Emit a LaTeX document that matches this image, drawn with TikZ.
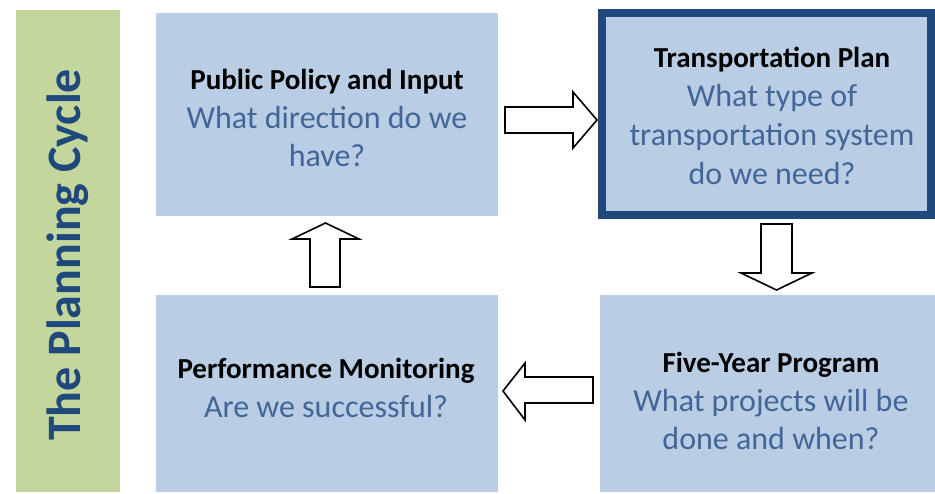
\documentclass[tikz,border=0pt]{standalone}
\usepackage{fontspec}
\setmainfont{Carlito}
\definecolor{boxfill}{RGB}{185,205,228}
\definecolor{barfill}{RGB}{195,214,155}
\definecolor{darkblue}{RGB}{31,73,125}
\definecolor{qblue}{RGB}{66,102,152}
\begin{document}
\begin{tikzpicture}[x=1pt,y=-1pt,
  box/.style={draw=none,fill=boxfill,inner sep=0pt},
  boxtext/.style={align=center,inner sep=0pt,text=qblue,font=\fontsize{32}{38.8}\selectfont},
  blockarrow/.style={draw=black,line width=1.6pt,fill=white,line join=miter}]
\useasboundingbox (0,0) rectangle (935,493);
% side bar
\fill[barfill] (16,10) rectangle (120,492);
\node[rotate=90,text=darkblue,font=\bfseries\fontsize{48}{50}\selectfont] (title) at (68,255) {The Planning Cycle};
% boxes
\node[box,minimum width=342pt,minimum height=203pt] (policy) at (327,114.5) {};
\node[box,draw=darkblue,line width=8pt,minimum width=329pt,minimum height=202pt] (plan) at (766.5,114) {};
\node[box,minimum width=342pt,minimum height=197pt] (perf) at (327,393.5) {};
\node[box,minimum width=335pt,minimum height=197pt] (prog) at (767.5,393.5) {};
% texts
\newcommand{\hd}[1]{{\color{black}\bfseries\fontsize{29}{38.8}\selectfont #1}}
\node[boxtext] (policyT) at (327,118) {\hd{Public Policy and Input}\\What direction do we\\have?};
\node[boxtext] (planT) at (772,116) {\hd{Transportation Plan}\\What type of\\transportation system\\do we need?};
\node[boxtext] (perfT) at (326,388) {\hd{Performance Monitoring}\\Are we successful?};
\node[boxtext] (progT) at (771,401) {\hd{Five-Year Program}\\What projects will be\\done and when?};
% block arrows
\draw[blockarrow] (505,107) -- (573,107) -- (573,92) -- (597,120) -- (573,148) -- (573,133) -- (505,133) -- cycle;
\draw[blockarrow] (761,224) -- (792,224) -- (792,273) -- (812,273) -- (776.5,290) -- (741,273) -- (761,273) -- cycle;
\draw[blockarrow] (593,377) -- (525,377) -- (525,363) -- (503,391) -- (525,420) -- (525,403) -- (593,403) -- cycle;
\draw[blockarrow] (310,287) -- (310,239) -- (292,239) -- (325.5,223) -- (359,239) -- (340,239) -- (340,287) -- cycle;
\end{tikzpicture}
\end{document}
